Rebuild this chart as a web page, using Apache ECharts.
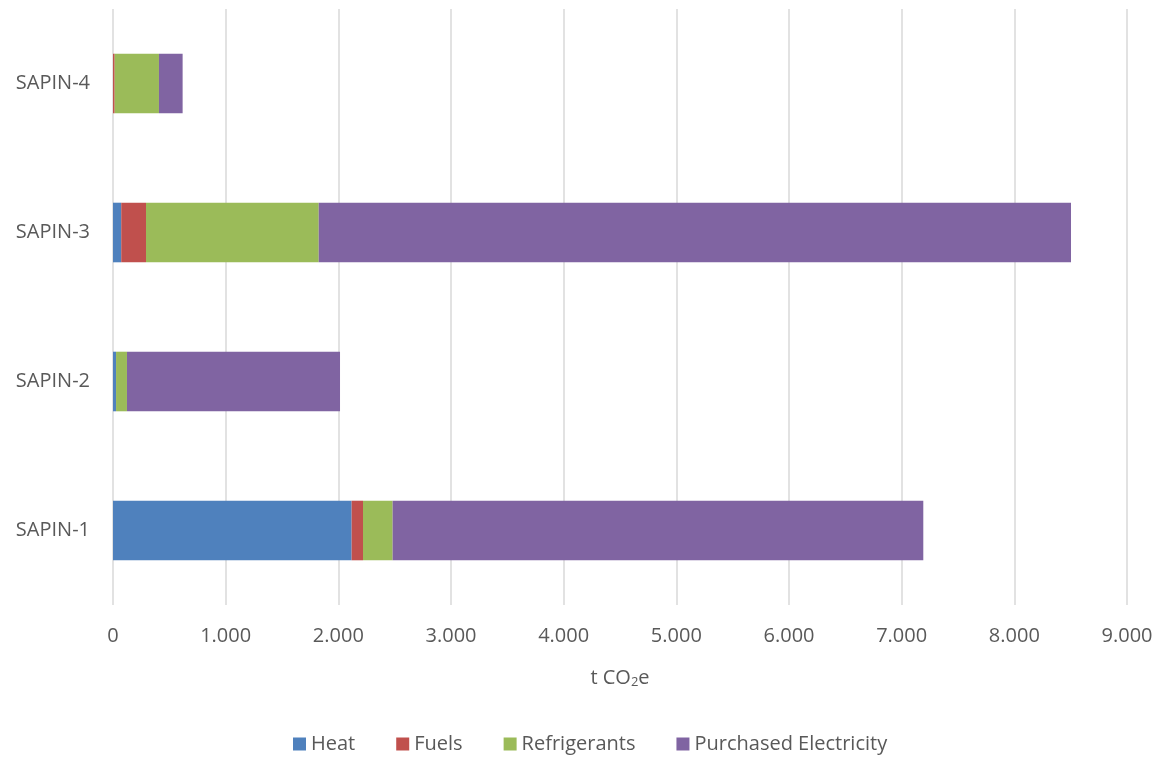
<!DOCTYPE html>
<html>
<head>
<meta charset="utf-8">
<script src="https://cdn.jsdelivr.net/npm/echarts@6/dist/echarts.min.js"></script>
<style>
  html, body { margin: 0; padding: 0; background: #fff; }
  #chart { width: 1158px; height: 758px; }
</style>
</head>
<body>
<div id="chart"></div>
<script>
// Sites, bottom to top on the category axis
const sites = ['SAPIN-1', 'SAPIN-2', 'SAPIN-3', 'SAPIN-4'];

// Emissions per source, t CO2e
const heat = [2118, 27, 73, 0];
const fuels = [101, 0, 220, 15];
const refrigerants = [263, 97, 1533, 393];
const purchasedElectricity = [4710, 1891, 6677, 210];

const seriesNames = ['Heat', 'Fuels', 'Refrigerants', 'Purchased Electricity'];
const seriesColors = ['#4F81BD', '#C0504D', '#9BBB59', '#8064A2'];
const seriesValues = [heat, fuels, refrigerants, purchasedElectricity];

const fontFamily = '"Open Sans", sans-serif';
const textColor = '#595959';
const fontSize = 20;

const chart = echarts.init(document.getElementById('chart'));

chart.setOption({
  animation: false,
  textStyle: { fontFamily: fontFamily },
  grid: { left: 113, right: 31, top: 9, bottom: 153, containLabel: false },
  legend: {
    top: 734,
    left: 293,
    padding: 0,
    icon: 'rect',
    itemWidth: 13,
    itemHeight: 13,
    itemGap: 41,
    textStyle: { color: textColor, fontSize: fontSize, fontFamily: fontFamily },
    data: seriesNames
  },
  xAxis: {
    type: 'value',
    min: 0,
    max: 9000,
    interval: 1000,
    name: 't CO{sub|2}e',
    nameLocation: 'middle',
    nameGap: 62,
    nameTextStyle: {
      color: textColor,
      fontSize: fontSize,
      fontFamily: fontFamily,
      rich: {
        sub: { fontSize: 13, verticalAlign: 'bottom', padding: [9, 0, 0, 0], color: textColor, fontFamily: fontFamily }
      }
    },
    axisLine: { show: false },
    axisTick: { show: false },
    axisLabel: {
      color: textColor,
      fontSize: fontSize,
      margin: 21,
      formatter: v => v === 0 ? '0' : (v / 1000).toFixed(0) + '.000'
    },
    splitLine: { show: true, lineStyle: { color: '#D9D9D9', width: 1.5 } }
  },
  yAxis: {
    type: 'category',
    data: sites,
    axisLine: { show: false },
    axisTick: { show: false },
    axisLabel: { color: textColor, fontSize: fontSize, margin: 23 }
  },
  series: seriesNames.map((name, i) => ({
    name: name,
    type: 'bar',
    stack: 'total',
    barCategoryGap: '60%',
    itemStyle: { color: seriesColors[i] },
    data: seriesValues[i]
  }))
});
</script>
</body>
</html>
